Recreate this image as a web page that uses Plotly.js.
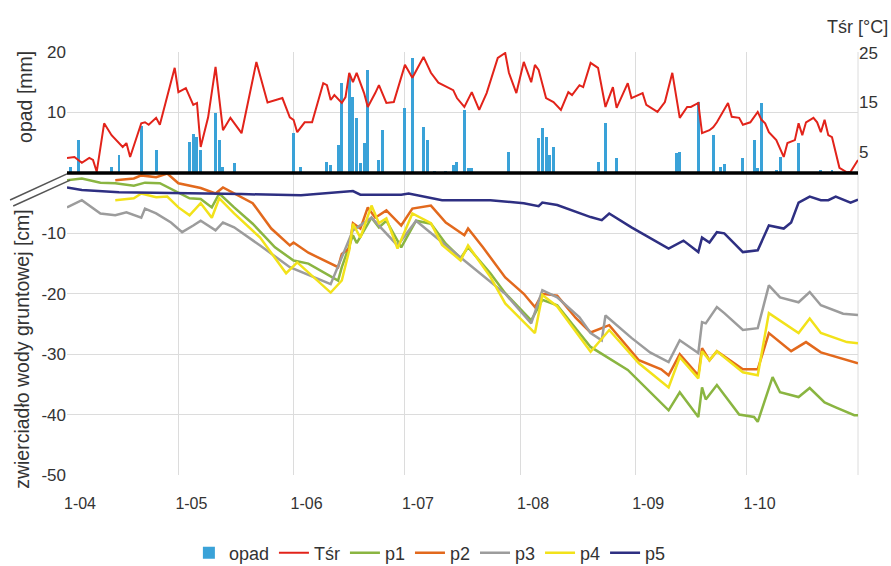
<!DOCTYPE html>
<html><head><meta charset="utf-8">
<script src="https://cdn.plot.ly/plotly-3.0.1.min.js"></script>
<style>body{margin:0;background:#fff}#chart{width:891px;height:566px}</style>
</head><body><div id="chart"></div>
<script>
const YEAR = '2009';
const monthTicks = ['04-01','05-01','06-01','07-01','08-01','09-01','10-01'];
const tickLabels = ['1-04','1-05','1-06','1-07','1-08','1-09','1-10'];
const levelTicks = [-10,-20,-30,-40,-50];
const levelTickLabels = ['-10','-20','-30','-40','-50'];

const opadDates = ['04-02','04-04','04-13','04-15','04-21','04-25','05-04','05-05','05-06','05-07','05-11','05-12','05-13','05-16','06-01','06-03','06-10','06-11','06-13','06-14','06-16','06-17','06-18','06-19','06-20','06-21','06-24','06-25','07-01','07-03','07-06','07-07','07-09','07-12','07-14','07-15','07-17','07-18','07-19','07-29','08-06','08-07','08-08','08-09','08-10','08-22','08-24','08-27','09-12','09-13','09-18','09-22','09-24','09-25','09-30','10-03','10-04','10-05','10-09','10-10','10-15','10-21','10-24'];
const opadValues = [1.0,5.5,1.0,3.0,7.8,3.8,5.1,6.4,6.0,3.8,9.9,5.5,1.0,1.7,6.6,1.0,1.8,1.3,4.6,14.9,15.9,12.6,9.1,1.7,5.0,17.0,2.1,7.1,10.7,19.0,7.6,5.5,0.4,0.4,1.3,1.8,10.4,0.8,0.8,3.5,5.8,7.4,6.0,3.0,4.3,1.8,8.3,2.5,3.3,3.5,11.7,6.3,1.0,1.5,2.5,5.5,0.8,11.6,0.5,2.6,5.0,0.5,0.5];

const tsrDates = ['04-01','04-03','04-05','04-07','04-08','04-09','04-11','04-13','04-16','04-17','04-18','04-21','04-22','04-23','04-25','04-26','04-30','05-01','05-03','05-05','05-06','05-07','05-09','05-11','05-13','05-15','05-18','05-22','05-25','05-27','05-29','05-31','06-01','06-02','06-04','06-06','06-09','06-10','06-11','06-12','06-14','06-15','06-16','06-17','06-18','06-20','06-21','06-23','06-24','06-26','06-28','07-01','07-03','07-06','07-08','07-10','07-14','07-15','07-17','07-19','07-21','07-23','07-26','07-28','07-29','07-31','08-02','08-04','08-05','08-06','08-08','08-10','08-12','08-14','08-15','08-17','08-18','08-20','08-22','08-24','08-26','08-27','08-30','08-31','09-03','09-04','09-07','09-09','09-11','09-13','09-14','09-15','09-16','09-18','09-19','09-21','09-22','09-23','09-26','09-27','09-29','09-30','10-02','10-04','10-05','10-06','10-07','10-09','10-11','10-12','10-14','10-15','10-16','10-17','10-19','10-20','10-21','10-22','10-23','10-24','10-26','10-28','10-29','10-31'];
const tsrValues = [3.8,4.0,2.8,3.8,3.4,1.0,10.8,8.4,6.0,6.8,4.0,10.8,11.0,10.5,11.9,10.5,22.0,17.1,17.9,14.5,14.9,6.0,12.0,22.2,9.4,11.9,8.8,23.2,15.0,15.5,15.9,12.0,11.5,9.0,11.0,11.0,18.9,18.5,15.5,16.5,14.9,16.1,21.0,19.1,21.0,16.9,14.1,16.9,18.5,14.9,15.1,22.6,20.0,24.2,21.0,19.0,17.5,15.9,14.1,17.1,13.5,16.9,24.0,25.0,21.0,16.9,23.2,19.1,22.6,21.6,15.9,15.1,13.5,17.1,16.5,18.5,18.1,23.0,22.0,14.1,18.1,13.9,18.9,15.9,16.9,14.5,13.1,15.1,21.0,11.9,13.1,14.1,14.1,14.9,8.8,9.4,10.0,11.0,14.9,12.1,11.9,10.5,11.0,13.1,11.5,10.8,9.0,7.4,4.0,6.8,7.4,10.8,8.4,11.0,11.9,11.0,9.0,11.5,8.4,8.0,1.8,0.9,1.0,3.4];

const p1Dates = ['04-01','04-05','04-10','04-14','04-19','04-22','04-26','04-30','05-04','05-07','05-10','05-12','05-16','05-21','05-27','06-01','06-05','06-13','06-14','06-17','06-18','06-22','06-24','06-26','06-30','07-04','07-08','07-12','07-16','07-18','07-24','07-28','08-04','08-07','08-11','08-20','08-30','09-10','09-13','09-18','09-19','09-20','09-23','09-29','10-03','10-04','10-08','10-10','10-15','10-18','10-22','10-25','10-30','10-31'];
const p1Values = [-1.2,-0.9,-1.6,-1.7,-2.1,-1.6,-1.7,-2.9,-4.2,-4.3,-5.7,-3.4,-5.7,-8.4,-12.3,-14.5,-15.0,-17.8,-15.6,-10.3,-11.6,-7.4,-9.0,-7.9,-12.3,-7.9,-8.4,-11.7,-14.1,-12.3,-16.6,-19.9,-24.4,-21.0,-21.9,-28.8,-32.6,-39.3,-36.3,-40.4,-35.5,-37.5,-35.1,-40.0,-40.4,-41.2,-33.8,-36.3,-37.1,-35.6,-38.0,-38.8,-40.1,-40.1];

const p2Dates = ['04-14','04-19','04-21','04-25','04-28','05-01','05-07','05-11','05-13','05-16','05-21','05-26','05-31','06-01','06-05','06-13','06-14','06-16','06-17','06-19','06-21','06-23','06-26','06-30','07-03','07-08','07-12','07-17','07-18','07-22','07-28','08-02','08-05','08-07','08-11','08-16','08-20','08-25','09-02','09-08','09-10','09-13','09-18','09-19','09-21','09-23','09-30','10-04','10-07','10-13','10-17','10-21','10-28','10-31'];
const p2Values = [-1.2,-0.9,-0.4,-0.7,-0.1,-1.7,-2.5,-3.4,-2.4,-3.4,-5.0,-9.2,-12.0,-11.5,-13.2,-15.6,-13.4,-12.5,-8.3,-9.2,-5.7,-7.4,-6.2,-8.7,-5.9,-5.4,-8.2,-10.3,-9.2,-12.3,-17.3,-20.0,-22.2,-20.0,-20.3,-24.0,-26.4,-25.2,-31.0,-32.5,-33.5,-30.0,-33.5,-29.0,-31.0,-29.5,-32.5,-32.5,-26.5,-29.5,-28.0,-29.7,-31.0,-31.5];

const p3Dates = ['04-01','04-05','04-10','04-14','04-17','04-21','04-22','04-25','04-29','05-02','05-05','05-07','05-11','05-13','05-16','05-23','05-31','06-11','06-17','06-22','06-29','07-04','07-16','07-28','08-04','08-07','08-11','08-17','08-20','08-23','08-24','08-31','09-05','09-10','09-13','09-18','09-19','09-20','09-23','09-25','09-30','10-04','10-07','10-10','10-15','10-18','10-21','10-27','10-31'];
const p3Values = [-5.7,-4.5,-6.7,-7.0,-6.5,-7.4,-5.9,-6.7,-8.2,-9.8,-8.7,-7.9,-9.5,-8.2,-9.0,-12.0,-15.6,-18.4,-9.5,-7.4,-12.0,-7.9,-14.0,-20.0,-24.9,-19.4,-20.6,-23.9,-26.5,-27.7,-23.6,-27.3,-29.7,-31.3,-27.7,-29.8,-24.7,-24.9,-22.2,-23.2,-26.0,-25.7,-18.6,-20.6,-21.4,-19.7,-21.9,-23.3,-23.5];

const p4Dates = ['04-14','04-19','04-21','04-25','04-28','05-01','05-04','05-07','05-10','05-12','05-16','05-23','05-30','06-02','06-11','06-14','06-16','06-17','06-19','06-22','06-24','06-26','06-29','07-03','07-08','07-11','07-16','07-18','07-24','07-28','08-05','08-07','08-11','08-20','08-25','09-02','09-10','09-13','09-18','09-19','09-21','09-23','09-30','10-04','10-07','10-13','10-15','10-18','10-21','10-28','10-31'];
const p4Values = [-4.5,-4.2,-3.4,-4.0,-3.9,-5.7,-7.0,-5.0,-7.4,-4.2,-6.7,-10.7,-16.6,-14.8,-19.8,-17.8,-12.8,-8.4,-10.7,-5.4,-8.3,-7.5,-12.5,-6.7,-8.3,-11.9,-14.5,-12.0,-17.2,-21.6,-26.5,-20.2,-22.1,-29.6,-26.0,-31.5,-35.5,-30.5,-34.0,-29.5,-31.0,-29.5,-33.0,-33.5,-23.2,-25.7,-26.5,-24.1,-26.5,-28.0,-28.2];

const p5Dates = ['04-01','04-05','04-15','05-01','05-18','06-03','06-17','06-19','06-30','07-02','07-11','07-24','08-02','08-06','08-07','08-11','08-20','08-23','08-25','08-31','09-10','09-14','09-18','09-19','09-21','09-23','09-25','09-30','10-04','10-07','10-11','10-13','10-15','10-18','10-21','10-23','10-25','10-29','10-31'];
const p5Values = [-2.4,-2.8,-3.2,-3.3,-3.5,-3.7,-3.0,-3.6,-3.6,-3.4,-4.5,-4.5,-5.0,-5.5,-4.9,-5.3,-7.3,-7.8,-6.7,-9.0,-12.5,-11.2,-13.1,-10.7,-11.5,-9.8,-10.0,-13.1,-12.8,-8.7,-9.2,-8.2,-4.9,-3.9,-4.5,-4.5,-3.9,-4.9,-4.4];

const full = d => YEAR + '-' + d;
const DAY = 86400000;
const FONT = 'Liberation Sans, Arial, sans-serif';
const TXT = '#333333';
const GRID = '#dcdcdc';

function levelTrace(name, dates, values, color) {
  return {type:'scatter', mode:'lines', name, x: dates.map(full), y: values,
          xaxis:'x', yaxis:'y', line:{color, width:2.5}};
}

const traces = [
  {type:'bar', name:'opad', x: opadDates.map(full), y: opadValues, xaxis:'x', yaxis:'y2',
   width: 0.8*DAY, marker:{color:'#3aa2d8'}},
  {type:'scatter', mode:'lines', name:'Tśr', x: tsrDates.map(full), y: tsrValues,
   xaxis:'x', yaxis:'y3', line:{color:'#e2231a', width:2}},
  levelTrace('p1', p1Dates, p1Values, '#8ab541'),
  levelTrace('p2', p2Dates, p2Values, '#e2691d'),
  levelTrace('p3', p3Dates, p3Values, '#9c9c9c'),
  levelTrace('p4', p4Dates, p4Values, '#f2e21a'),
  levelTrace('p5', p5Dates, p5Values, '#2e2f82')
];

const split = 0.714;
const tickFont = {size:17, color:TXT};
const layout = {
  width: 891, height: 566,
  margin: {l:67, r:33, t:52, b:91},
  paper_bgcolor:'#ffffff', plot_bgcolor:'#ffffff',
  font: {family: FONT, size: 16, color: TXT},
  showlegend: true,
  bargap: 0,
  xaxis: {type:'date', range:[full('04-01'), full('10-31')], anchor:'y', automargin:false,
          tickvals: monthTicks.map(full), ticktext: tickLabels,
          ticklabelshift: 13, ticklabelstandoff: 17,
          showgrid:true, gridcolor:GRID, gridwidth:1, zeroline:false, showline:false,
          tickfont:{size:16, color:TXT}},
  yaxis: {domain:[0, split], range:[-50, 0], tickvals: levelTicks, ticktext: levelTickLabels,
          automargin:false,
          showgrid:true, gridcolor:GRID, zeroline:false, showline:false, tickfont:tickFont},
  yaxis2: {domain:[split, 1], range:[0, 20], tickvals:[10, 20], anchor:'x', automargin:false,
           showgrid:true, gridcolor:GRID, zeroline:false, showline:false, tickfont:tickFont},
  yaxis3: {overlaying:'y2', side:'right', anchor:'x', range:[0.76, 25.2], tickvals:[5, 15, 25],
           automargin:false,
           showgrid:false, zeroline:false, showline:false, tickfont:tickFont},
  legend: {orientation:'h', xref:'container', yref:'container', x:0.212, xanchor:'left',
           y:0.023, yanchor:'middle',
           font:{size:18, color:TXT}, itemwidth:30, traceorder:'normal'},
  shapes: [
    {type:'line', xref:'paper', yref:'paper', x0:0, x1:1, y0:split, y1:split,
     line:{color:'#000000', width:3.5}, layer:'above'},
    {type:'line', xref:'paper', yref:'paper', x0:1, x1:1, y0:0, y1:1,
     line:{color:GRID, width:1}, layer:'below'},
    {type:'line', xref:'paper', yref:'paper', x0:-0.072, y0:0.650, x1:0, y1:0.712,
     line:{color:'#555555', width:1.5}},
    {type:'line', xref:'paper', yref:'paper', x0:-0.068, y0:0.636, x1:0.004, y1:0.697,
     line:{color:'#555555', width:1.5}}
  ],
  annotations: [
    {text:'opad [mm]', xref:'paper', yref:'paper', x:-0.053, y:0.894, textangle:-90,
     xanchor:'center', yanchor:'middle', showarrow:false, font:{size:19.5, color:TXT}},
    {text:'zwierciadło wody gruntowej [cm]', xref:'paper', yref:'paper', x:-0.057, y:0.298,
     textangle:-90, xanchor:'center', yanchor:'middle', showarrow:false, font:{size:19.5, color:TXT}},
    {text:'Tśr [°C]', xref:'paper', yref:'paper', x:1.0405, y:1.059, xanchor:'right',
     yanchor:'middle', showarrow:false, font:{size:18, color:TXT}}
  ]
};

Plotly.newPlot('chart', traces, layout, {displayModeBar:false, staticPlot:true});
</script></body></html>
